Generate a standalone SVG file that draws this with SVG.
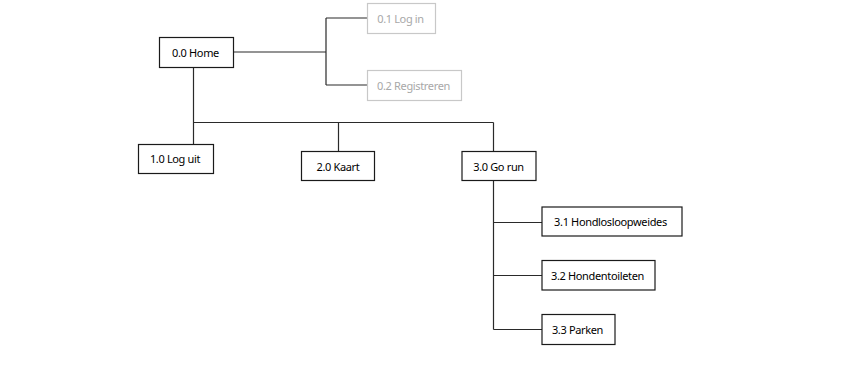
<svg xmlns="http://www.w3.org/2000/svg" width="842" height="369" viewBox="0 0 842 369">
  <style>
    .box { fill: #ffffff; stroke: #1a1a1a; stroke-width: 1.2; }
    .box.off { stroke: #c8c8c8; }
    .lbl { font-family: "Noto Sans", "Liberation Sans", sans-serif; font-size: 11px; fill: #000000; text-anchor: middle; letter-spacing: -0.35px; }
    .lbl.off { fill: #a8a8a8; }
    .wire { fill: none; stroke: #2a2a2a; stroke-width: 1.2; }
  </style>
  <rect width="842" height="369" fill="#ffffff"/>

  <g id="connectors">
    <path class="wire" d="M233 52 H326 M326 18 V85 M326 18 H367 M326 85 H367"/>
    <path class="wire" d="M193.5 67 V122.5 H493.5 M193.5 122.5 V144 M338.5 122.5 V151 M493.5 122.5 V151"/>
    <path class="wire" d="M493.5 181 V329.5 M493.5 222.5 H542 M493.5 275.5 H542 M493.5 329.5 H542"/>
  </g>

  <g id="n00">
    <rect class="box" x="159.5" y="37.5" width="74" height="30"/>
    <text class="lbl" x="195.5" y="56.5">0.0 Home</text>
  </g>
  <g id="n01">
    <rect class="box off" x="367.5" y="3.5" width="68" height="30"/>
    <text class="lbl off" x="400.5" y="22.5">0.1 Log in</text>
  </g>
  <g id="n02">
    <rect class="box off" x="367.5" y="70.5" width="94" height="30"/>
    <text class="lbl off" x="413.5" y="89.5">0.2 Registreren</text>
  </g>
  <g id="n10">
    <rect class="box" x="138.5" y="144.5" width="75" height="29"/>
    <text class="lbl" x="175" y="163">1.0 Log uit</text>
  </g>
  <g id="n20">
    <rect class="box" x="301.5" y="151.5" width="73" height="29"/>
    <text class="lbl" x="338" y="170.5">2.0 Kaart</text>
  </g>
  <g id="n30">
    <rect class="box" x="462" y="151.5" width="74" height="29"/>
    <text class="lbl" x="498.5" y="170.5">3.0 Go run</text>
  </g>
  <g id="n31">
    <rect class="box" x="542" y="207" width="140" height="29"/>
    <text class="lbl" x="610.5" y="226">3.1 Hondlosloopweides</text>
  </g>
  <g id="n32">
    <rect class="box" x="542" y="260.5" width="113" height="29.5"/>
    <text class="lbl" x="597.5" y="279.5">3.2 Hondentoileten</text>
  </g>
  <g id="n33">
    <rect class="box" x="542" y="314.5" width="73" height="30"/>
    <text class="lbl" x="577.5" y="334">3.3 Parken</text>
  </g>
</svg>
